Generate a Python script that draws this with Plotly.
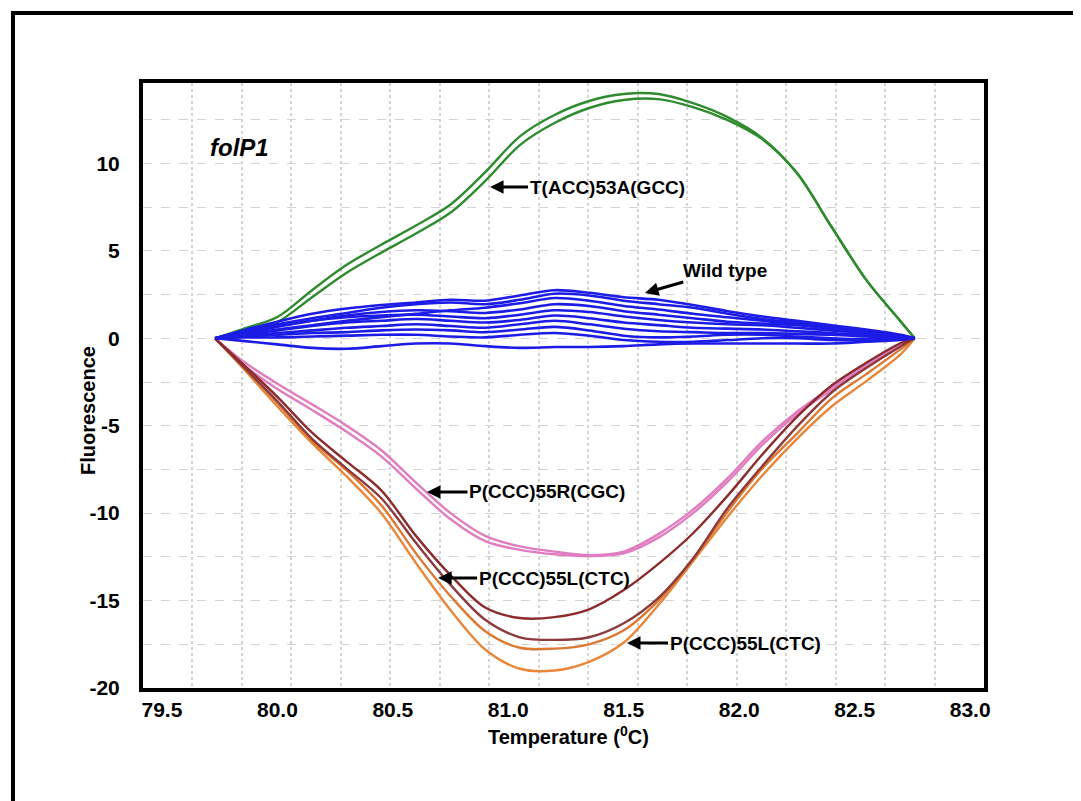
import plotly.graph_objects as go

# ---------------- data ----------------
temperature = [79.73, 79.85, 80.0, 80.15, 80.3, 80.45, 80.6, 80.75, 80.9, 81.05, 81.2,
               81.35, 81.5, 81.65, 81.8, 81.95, 82.1, 82.25, 82.4, 82.55, 82.7, 82.76]

green_a = [0, 0.53, 1.22, 2.75, 4.2, 5.35, 6.45, 7.65, 9.5, 11.55, 12.77,
           13.57, 13.97, 13.97, 13.45, 12.65, 11.45, 9.45, 6.37, 3.34, 0.95, 0]
green_b = [0, 0.36, 0.93, 2.35, 3.75, 4.9, 5.99, 7.19, 9.0, 11.05, 12.31,
           13.17, 13.63, 13.68, 13.22, 12.48, 11.39, 9.45, 6.37, 3.34, 0.95, 0]

wild_type = [
    [0, 0.45, 0.95, 1.4, 1.7, 1.9, 2.05, 2.2, 2.15, 2.45, 2.75, 2.6, 2.35, 2.2, 1.9, 1.55, 1.25, 1.0, 0.75, 0.5, 0.2, 0],
    [0, 0.4, 0.8, 1.15, 1.45, 1.75, 1.95, 2.05, 1.95, 2.2, 2.55, 2.45, 2.15, 1.95, 1.75, 1.4, 1.1, 0.9, 0.65, 0.4, 0.15, 0],
    [0, 0.3, 0.65, 1.0, 1.3, 1.5, 1.6, 1.55, 1.45, 1.65, 1.95, 1.85, 1.55, 1.35, 1.15, 0.95, 0.85, 0.75, 0.55, 0.35, 0.1, 0],
    [0, 0.35, 0.7, 1.0, 1.2, 1.3, 1.35, 1.25, 1.15, 1.35, 1.6, 1.5, 1.25, 1.05, 0.9, 0.8, 0.75, 0.6, 0.45, 0.3, 0.1, 0],
    [0, 0.2, 0.45, 0.7, 0.9, 1.0, 1.1, 1.0, 0.9, 1.05, 1.3, 1.15, 0.9, 0.75, 0.6, 0.55, 0.5, 0.4, 0.3, 0.2, 0.05, 0],
    [0, 0.15, 0.3, 0.45, 0.6, 0.7, 0.8, 0.7, 0.6, 0.8, 1.0, 0.8, 0.55, 0.4, 0.35, 0.3, 0.3, 0.25, 0.2, 0.1, 0.0, 0],
    [0, 0.1, 0.2, 0.3, 0.35, 0.45, 0.5, 0.45, 0.35, 0.5, 0.65, 0.45, 0.15, 0.05, 0.1, 0.2, 0.2, 0.1, 0.0, -0.05, 0, 0],
    [0, 0.05, 0.05, 0.1, 0.15, 0.2, 0.2, 0.1, 0.05, 0.2, 0.3, 0.15, -0.1, -0.2, -0.2, -0.1, 0.0, 0.0, -0.1, -0.1, -0.05, 0],
    [0, -0.15, -0.35, -0.55, -0.6, -0.45, -0.3, -0.3, -0.45, -0.55, -0.5, -0.5, -0.45, -0.35, -0.3, -0.3, -0.3, -0.3, -0.3, -0.2, -0.1, 0],
    [0, 0.25, 0.5, 0.75, 1.0, 1.2, 1.4, 1.6, 1.75, 2.0, 2.3, 2.15, 1.85, 1.65, 1.4, 1.2, 1.0, 0.8, 0.55, 0.35, 0.1, 0],
]

pink_a = [0, -1.3, -2.6, -3.78, -5.0, -6.4, -8.25, -10.0, -11.3, -11.9, -12.2,
          -12.4, -12.2, -11.2, -9.8, -8.0, -5.9, -4.2, -2.8, -1.47, -0.33, 0]
pink_b = [0, -1.5, -2.9, -4.1, -5.35, -6.75, -8.6, -10.35, -11.6, -12.1, -12.35,
          -12.45, -12.3, -11.4, -10.0, -8.2, -6.1, -4.35, -2.95, -1.6, -0.4, 0]

brown_a = [0, -1.47, -3.35, -5.4, -7.05, -8.7, -11.3, -13.55, -15.4, -16.0, -15.95,
           -15.5, -14.4, -12.9, -11.15, -9.0, -6.65, -4.5, -2.7, -1.4, -0.27, 0]
brown_b = [0, -1.6, -3.6, -5.75, -7.45, -9.15, -11.7, -14.1, -16.1, -17.1, -17.25,
           -17.1, -16.3, -14.85, -12.6, -9.7, -7.3, -5.05, -3.1, -1.7, -0.45, 0]
orange_a = [0, -1.6, -3.7, -5.85, -7.55, -9.55, -12.3, -14.75, -16.75, -17.7, -17.75,
            -17.5, -16.7, -15.0, -12.65, -9.9, -7.45, -5.45, -3.45, -2.05, -0.62, 0]
orange_b = [0, -1.7, -3.9, -6.0, -7.9, -10.0, -12.85, -15.55, -17.8, -18.9, -19.0,
            -18.5, -17.4, -15.25, -12.75, -10.2, -7.85, -5.75, -3.9, -2.45, -0.9, 0]

x_tick_vals = [79.5, 80.0, 80.5, 81.0, 81.5, 82.0, 82.5, 83.0]
x_tick_text = ["79.5", "80.0", "80.5", "81.0", "81.5", "82.0", "82.5", "83.0"]
y_tick_vals = [-20, -15, -10, -5, 0, 5, 10]
y_tick_text = ["-20", "-15", "-10", "-5", "0", "5", "10"]

# ---------------- figure ----------------
FONT = "Liberation Sans, Arial, sans-serif"
fig = go.Figure()

def add_line(y, color, width=2.4):
    fig.add_trace(go.Scatter(x=temperature, y=y, mode="lines",
                             line=dict(color=color, width=width, shape="spline", smoothing=0.9),
                             showlegend=False, hoverinfo="skip"))

add_line(green_a, "#2e8b2e")
add_line(green_b, "#2e8b2e")
add_line(pink_a, "#e07cc0")
add_line(pink_b, "#e07cc0")
add_line(orange_b, "#e8873a")
add_line(orange_a, "#dc7832")
add_line(brown_b, "#8c3a3c")
add_line(brown_a, "#8b2c2c")
for wt in wild_type:
    add_line(wt, "#1c1ce6", 2.6)

grid_col = "#d4d4d4"
fig.update_layout(
    width=1073, height=793,
    margin=dict(l=135, r=97, t=75, b=113),
    paper_bgcolor="white", plot_bgcolor="white",
    font=dict(family=FONT, color="black"),
    xaxis=dict(
        range=[79.418, 83.06], tickmode="array", tickvals=x_tick_vals, ticktext=x_tick_text,
        showgrid=False, zeroline=False, showline=True, linewidth=4, linecolor="black",
        mirror=True, ticks="", ticklabelstandoff=0,
        tickfont=dict(family=FONT, size=21, color="black", weight="bold"),
        minor=dict(tickmode="linear", tick0=79.418, dtick=0.21424, showgrid=True,
                   griddash="dot", gridcolor=grid_col, gridwidth=1.5, ticks=""),
    ),
    yaxis=dict(
        range=[-20, 14.6], tickmode="array", tickvals=y_tick_vals, ticktext=y_tick_text,
        showgrid=True, griddash="dash", gridcolor=grid_col, gridwidth=1.3,
        zeroline=False, showline=True, linewidth=4, linecolor="black",
        mirror=True, ticks="", ticklabelstandoff=15,
        tickfont=dict(family=FONT, size=21, color="black", weight="bold"),
        minor=dict(tickmode="linear", tick0=0, dtick=2.5, showgrid=True,
                   griddash="dash", gridcolor=grid_col, gridwidth=1.3, ticks=""),
    ),
)

# outer frame
fig.add_shape(type="rect", xref="paper", yref="paper",
              x0=-0.1546, x1=1.2, y0=-0.3, y1=1.1157,
              line=dict(color="black", width=4), fillcolor="rgba(0,0,0,0)", layer="above")

lab_font = dict(family=FONT, size=19, color="black")
arrow_kw = dict(showarrow=True, arrowhead=2, arrowsize=0.9, arrowwidth=3,
                arrowcolor="black", ayref="pixel", axref="pixel", font=lab_font)

fig.add_annotation(x=80.921, y=8.65, text="<b>T(ACC)53A(GCC)</b>", ax=117, ay=0, **arrow_kw)
fig.add_annotation(x=81.592, y=2.59, text="<b>Wild type</b>", ax=80, ay=-23, **arrow_kw)
fig.add_annotation(x=80.648, y=-8.79, text="<b>P(CCC)55R(CGC)</b>", ax=120, ay=0, **arrow_kw)
fig.add_annotation(x=80.696, y=-13.71, text="<b>P(CCC)55L(CTC)</b>", ax=116, ay=0, **arrow_kw)
fig.add_annotation(x=81.514, y=-17.43, text="<b>P(CCC)55L(CTC)</b>", ax=118, ay=0, **arrow_kw)

fig.add_annotation(x=79.834, y=10.94, text="<b><i>folP1</i></b>", showarrow=False,
                   font=dict(family=FONT, size=24, color="black"))

fig.add_annotation(xref="paper", yref="paper", x=-0.0654, y=0.4595, textangle=-90,
                   xanchor="center", yanchor="middle",
                   text="<b>Fluorescence</b>", showarrow=False,
                   font=dict(family=FONT, size=20, color="black"))
fig.add_annotation(xref="paper", yref="paper", x=0.5054, y=-0.0777,
                   xanchor="center", yanchor="middle",
                   text="<b>Temperature (<sup>0</sup>C)</b>", showarrow=False,
                   font=dict(family=FONT, size=20, color="black"))

fig.write_html("out.html")
